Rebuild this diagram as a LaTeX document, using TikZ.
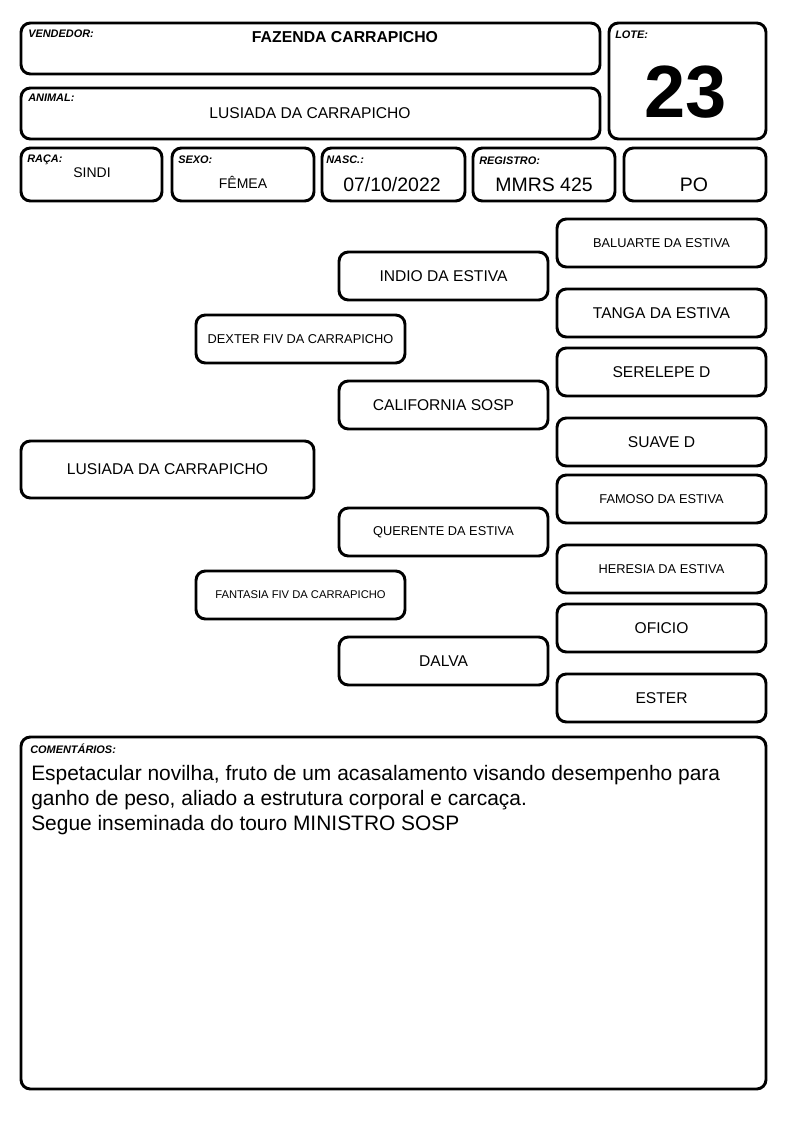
\documentclass[tikz,border=0pt]{standalone}
\usepackage{fontspec}
\setmainfont{Liberation Sans}
\newcommand\fsz[1]{\fontsize{#1}{#1}\selectfont}
\tikzset{
  box/.style={draw=black, line width=2.2pt, rounded corners=7pt, inner sep=0pt, fill=white},
  lbl/.style={anchor=base west, inner sep=0pt, font=\fsz{8.2pt}\bfseries\itshape},
  val/.style={anchor=base, inner sep=0pt},
  big/.style={font=\fsz{11.7pt}},
  med/.style={font=\fsz{9.6pt}},
  sml/.style={font=\fsz{8.4pt}}
}
\newcommand\pbox[7]{%
  \node[box,#6,minimum width={(#4-#2)*0.75pt},minimum height={(#5-#3)*0.75pt}] (#1) at ({(#2+#4)/2},{(#3+#5)/2}) {#7};}
\begin{document}
\begin{tikzpicture}[x=0.75pt,y=-0.75pt]
\useasboundingbox (0,0) rectangle (794,1123);
% header boxes
\pbox{vend}{21}{23}{600}{74}{}{}
\pbox{anim}{21}{88}{600}{139}{}{}
\pbox{lote}{609}{23}{766}{139}{}{}
\pbox{raca}{21}{148}{162}{201}{}{}
\pbox{sexo}{172}{148}{314}{201}{}{}
\pbox{nasc}{322}{148}{465}{201}{}{}
\pbox{reg}{473}{148}{615}{201}{}{}
\pbox{po}{624}{148}{766}{201}{}{}
\node[lbl] (lvend) at (28,38) {VENDEDOR:};
\node[val,font=\fsz{11.85pt}\bfseries] (tvend) at (345,43) {FAZENDA CARRAPICHO};
\node[lbl] (lanim) at (28,102) {ANIMAL:};
\node[val,big] (tanim) at (310,119) {LUSIADA DA CARRAPICHO};
\node[lbl] (llote) at (615,39) {LOTE:};
\node[val,font=\fsz{55.5pt}\bfseries] (tlote) at (686,118) {23};
\node[lbl] (lraca) at (27,163) {RAÇA:};
\node[val,font=\fsz{10.5pt}] (traca) at (92,178) {SINDI};
\node[lbl] (lsexo) at (178,164) {SEXO:};
\node[val,font=\fsz{10.5pt}] (tsexo) at (243,189) {FÊMEA};
\node[lbl] (lnasc) at (326,164) {NASC.:};
\node[val,font=\fsz{14.6pt}] (tnasc) at (392,192) {07/10/2022};
\node[lbl] (lreg) at (479,165) {REGISTRO:};
\node[val,font=\fsz{14.6pt}] (treg) at (544,192) {MMRS 425};
\node[val,font=\fsz{14.6pt}] (tpo) at (694,192) {PO};
% pedigree
\pbox{p0}{21}{441}{314}{498}{big}{LUSIADA DA CARRAPICHO}
\pbox{p1}{196}{315}{405}{363}{med}{DEXTER FIV DA CARRAPICHO}
\pbox{p2}{196}{571}{405}{619}{sml}{FANTASIA FIV DA CARRAPICHO}
\pbox{p3}{339}{252}{548}{300}{big}{INDIO DA ESTIVA}
\pbox{p4}{339}{381}{548}{429}{big}{CALIFORNIA SOSP}
\pbox{p5}{339}{508}{548}{556}{med}{QUERENTE DA ESTIVA}
\pbox{p6}{339}{637}{548}{685}{big}{DALVA}
\pbox{p7}{557}{219}{766}{267}{med}{BALUARTE DA ESTIVA}
\pbox{p8}{557}{289}{766}{337}{big}{TANGA DA ESTIVA}
\pbox{p9}{557}{348}{766}{396}{big}{SERELEPE D}
\pbox{p10}{557}{418}{766}{466}{big}{SUAVE D}
\pbox{p11}{557}{475}{766}{523}{med}{FAMOSO DA ESTIVA}
\pbox{p12}{557}{545}{766}{593}{med}{HERESIA DA ESTIVA}
\pbox{p13}{557}{604}{766}{652}{big}{OFICIO}
\pbox{p14}{557}{674}{766}{722}{big}{ESTER}
% comments
\pbox{com}{21}{737}{766}{1089}{}{}
\node[lbl] (lcom) at (30,753) {COMENTÁRIOS:};
\node[anchor=base west,inner sep=0pt,font=\fsz{15.7pt}] (c1) at (31,780) {Espetacular novilha, fruto de um acasalamento visando desempenho para};
\node[anchor=base west,inner sep=0pt,font=\fsz{15.7pt}] (c2) at (31,805) {ganho de peso, aliado a estrutura corporal e carcaça.};
\node[anchor=base west,inner sep=0pt,font=\fsz{15.7pt}] (c3) at (31,830) {Segue inseminada do touro MINISTRO SOSP};
\end{tikzpicture}
\end{document}
